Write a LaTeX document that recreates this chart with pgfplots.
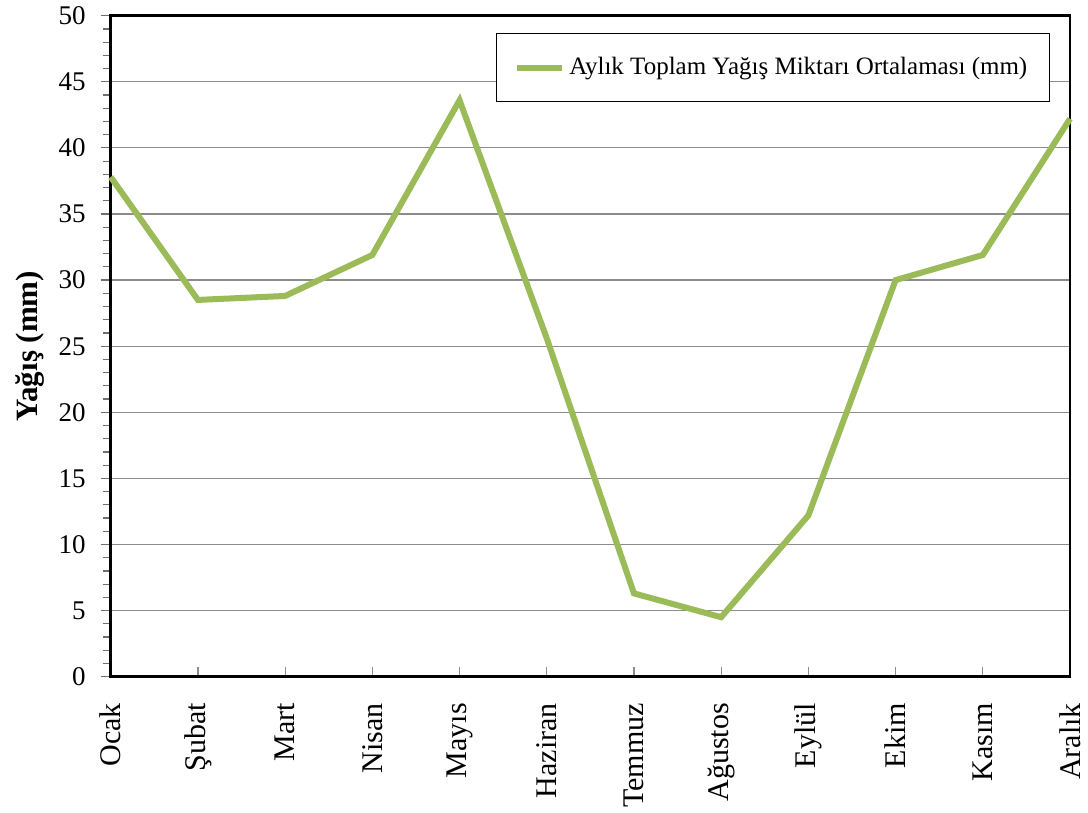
\documentclass[border=0pt]{standalone}
\usepackage{fontspec}
\setmainfont{Liberation Serif}
\usepackage{pgfplots}
\pgfplotsset{compat=1.18}
\definecolor{rainline}{HTML}{9BBB59}
\definecolor{gridgray}{HTML}{8C8C8C}

% Monthly mean total precipitation (mm)
\pgfplotstableread{
m  val
0  37.8
1  28.5
2  28.8
3  31.9
4  43.6
5  25.6
6  6.3
7  4.5
8  12.2
9  30.0
10 31.9
11 42.2
}\yagis

\begin{document}
\begin{tikzpicture}
\useasboundingbox (-55.35pt,-68.15pt) rectangle (488.65pt,338.35pt);
\begin{axis}[
  scale only axis,
  width=479.65pt, height=330.5pt,
  xmin=0, xmax=11, ymin=0, ymax=50,
  xtick={0,...,11},
  xticklabels={Ocak,Şubat,Mart,Nisan,Mayıs,Haziran,Temmuz,Ağustos,Eylül,Ekim,Kasım,Aralık},
  ytick={0,5,...,50},
  minor y tick num=4,
  xtick pos=lower, ytick pos=left,
  ymajorgrids,
  grid style={gridgray, line width=0.6pt},
  xtick align=inside,
  ytick align=outside,
  major tick length=5pt,
  minor tick length=4pt,
  x tick style={gridgray, line width=0.6pt},
  y tick style={gridgray!80!black, line width=0.6pt},
  axis line style={black, line width=1.2pt},
  /pgf/number format/assume math mode=true,
  yticklabel style={font=\fontsize{13.5}{15}\selectfont, xshift=-4pt},
  xticklabel style={font=\fontsize{15}{17}\selectfont, rotate=90, anchor=east, inner xsep=13pt},
  ylabel={Yağış (mm)},
  ylabel style={font=\fontsize{15.5}{17}\selectfont\bfseries, at={(axis description cs:-0.0841,0.5)}, anchor=center},
  legend style={at={(rel axis cs:0.979,0.974)}, anchor=north east,
    draw=black, line width=0.6pt, fill=white,
    font=\fontsize{12.5}{14}\selectfont,
    inner xsep=9pt, inner ysep=10pt},
  legend image code/.code={\draw[#1] (0pt,0pt) -- (22.5pt,0pt);},
  clip=false,
]
\addplot[rainline, line width=3pt, line join=miter] table[x=m, y=val] {\yagis};
\addlegendentry{Aylık Toplam Yağış Miktarı Ortalaması (mm)}
\end{axis}
\end{tikzpicture}
\end{document}
